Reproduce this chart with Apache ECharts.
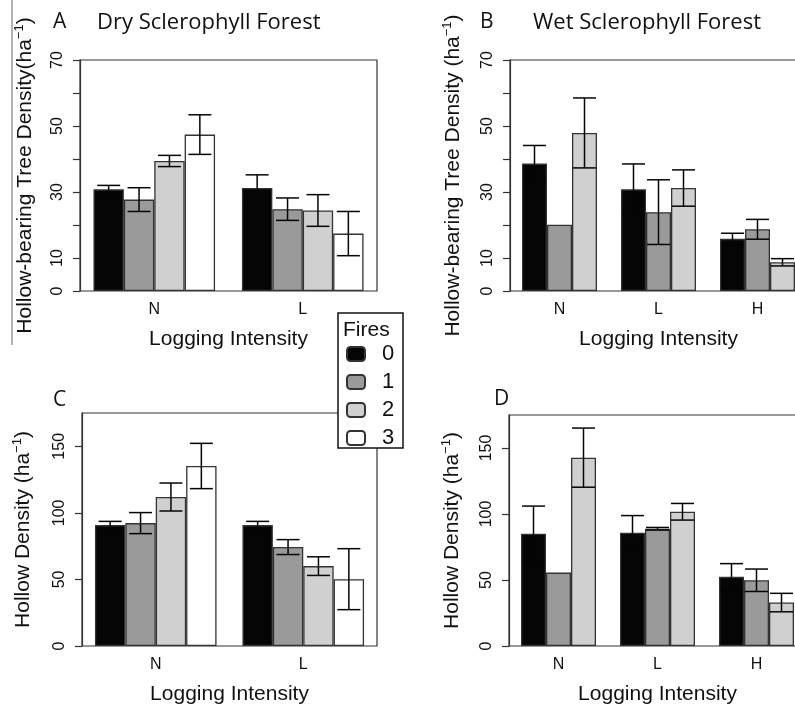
<!DOCTYPE html>
<html>
<head>
<meta charset="utf-8">
<script src="https://cdn.jsdelivr.net/npm/echarts@6/dist/echarts.min.js"></script>
<style>
html,body{margin:0;padding:0;overflow:hidden;background:#fff;width:795px;height:707px;}
#c{position:absolute;left:0;top:0;width:830px;height:707px;}
</style>
</head>
<body>
<div id="c"></div>
<script>
// ---------- data ----------
const fireLevels = ['0', '1', '2', '3'];
const catsDry = ['N', 'L'];
const catsWet = ['N', 'L', 'H'];

// Panel A: Dry sclerophyll, hollow-bearing tree density (ha^-1)
const treeDryMean = [[30.8, 31.2], [27.7, 24.8], [39.4, 24.4], [47.4, 17.4]];
const treeDryErr  = [[1.2, 4.0], [3.6, 3.4], [1.7, 4.8], [6.0, 6.7]];

// Panel B: Wet sclerophyll, hollow-bearing tree density (ha^-1)
const treeWetMean = [[38.6, 30.8, 15.8], [20.1, 23.9, 18.7], [47.9, 31.2, 8.7]];
const treeWetErr  = [[5.5, 7.7, 1.7], [null, 9.8, 3.0], [10.6, 5.5, 1.1]];

// Panel C: Dry sclerophyll, hollow density (ha^-1)
const holDryMean = [[90.8, 90.8], [92.3, 74.3], [111.9, 60.0], [135.2, 50.2]];
const holDryErr  = [[2.8, 2.8], [7.9, 5.6], [10.5, 7.0], [17.0, 22.9]];

// Panel D: Wet sclerophyll, hollow density (ha^-1)
const holWetMean = [[85.0, 85.8, 52.4], [55.6, 88.8, 49.8], [142.7, 101.7, 32.9]];
const holWetErr  = [[21.0, 13.0, 10.0], [null, 1.0, 8.5], [22.4, 6.3, 7.0]];

const treeTicks = [0, 10, 20, 30, 40, 50, 60, 70];
const treeTickLabels = [0, 10, 30, 50, 70];
const holTicks = [0, 50, 100, 150];

// ---------- styles ----------
const fillColors = ['#050505', '#9a9a9a', '#d0d0d0', '#ffffff'];
const lineCol = '#333';
const SANS = '"Liberation Sans", Arial, sans-serif';
const TITLE = '"Open Sans", Lato, sans-serif';

const panels = [
  {grid:{left:80, top:60, width:297, height:231}, cats:catsDry, mean:treeDryMean, err:treeDryErr, max:70, ticks:treeTicks, labels:treeTickLabels, barW:30.4,
   yname:'{a|Hollow-bearing Tree Density(ha}{s|−1}{a|)}', nameGap:42},
  {grid:{left:510, top:60, width:297, height:231}, cats:catsWet, mean:treeWetMean, err:treeWetErr, max:70, ticks:treeTicks, labels:treeTickLabels, barW:25,
   yname:'{a|Hollow-bearing Tree Density (ha}{s|−1}{a|)}', nameGap:44},
  {grid:{left:82, top:413, width:295, height:233}, cats:catsDry, mean:holDryMean, err:holDryErr, max:175, ticks:holTicks, labels:holTicks, barW:30.4,
   yname:'{a|Hollow Density (ha}{s|−1}{a|)}', nameGap:46},
  {grid:{left:509, top:415, width:297, height:231}, cats:catsWet, mean:holWetMean, err:holWetErr, max:175, ticks:holTicks, labels:holTicks, barW:25,
   yname:'{a|Hollow Density (ha}{s|−1}{a|)}', nameGap:44}
];

const grids = [], xAxes = [], yAxes = [], series = [];
panels.forEach((p, pi) => {
  grids.push(Object.assign({show:true, borderColor:lineCol, borderWidth:1.2, backgroundColor:'transparent'}, p.grid));
  xAxes.push({
    type:'category', gridIndex:pi, data:p.cats,
    axisLine:{show:false}, axisTick:{show:false},
    axisLabel:{color:'#111', fontFamily:SANS, fontSize:16, margin:11},
    name:'Logging Intensity', nameLocation:'middle', nameGap:38,
    nameTextStyle:{color:'#111', fontFamily:SANS, fontSize:21}
  });
  yAxes.push({
    type:'value', gridIndex:pi, min:0, max:p.max,
    axisLine:{show:true, lineStyle:{color:lineCol, width:1.2}},
    axisTick:{show:true, length:7, lineStyle:{color:lineCol, width:1.2}, customValues:p.ticks},
    axisLabel:{show:true, rotate:90, margin:14, color:'#111', fontFamily:SANS, fontSize:16, customValues:p.labels},
    splitLine:{show:false},
    name:p.yname, nameLocation:'middle', nameGap:p.nameGap,
    nameTextStyle:{padding:[0, 0, 0, 0], rich:{
      a:{fontFamily:SANS, fontSize:21, color:'#111', lineHeight:25},
      s:{fontFamily:SANS, fontSize:13, color:'#111', verticalAlign:'top', lineHeight:25}
    }}
  });
  const nF = p.mean.length;
  p.mean.forEach((vals, fi) => {
    series.push({
      type:'bar', name:fireLevels[fi], xAxisIndex:pi, yAxisIndex:pi,
      data:vals, barWidth:p.barW, barGap:'0%',
      itemStyle:{color:fillColors[fi], borderColor:lineCol, borderWidth:1.3},
      emphasis:{disabled:true}, z:2
    });
  });
  p.mean.forEach((vals, fi) => {
    const errData = [];
    vals.forEach((m, ci) => {
      const e = p.err[fi][ci];
      if (e != null) errData.push([ci, m - e, m + e]);
    });
    const off = (fi - (nF - 1) / 2) * p.barW;
    const hw = 11.5;
    series.push({
      type:'custom', name:'err' + pi + '_' + fi, xAxisIndex:pi, yAxisIndex:pi,
      data:errData, z:5, silent:true,
      renderItem:(params, api) => {
        const c = api.value(0);
        const lo = api.coord([c, api.value(1)]);
        const hi = api.coord([c, api.value(2)]);
        const x = lo[0] + off;
        const st = {stroke:'#050505', lineWidth:1.5};
        return {type:'group', children:[
          {type:'line', shape:{x1:x, y1:lo[1], x2:x, y2:hi[1]}, style:st},
          {type:'line', shape:{x1:x - hw, y1:lo[1], x2:x + hw, y2:lo[1]}, style:st},
          {type:'line', shape:{x1:x - hw, y1:hi[1], x2:x + hw, y2:hi[1]}, style:st}
        ]};
      }
    });
  });
});

const txt = (t, x, y, size, fam) => ({type:'text', x:x, y:y, z:40,
  style:{text:t, fill:'#111', font:'' + size + 'px ' + fam, verticalAlign:'middle', align:'left'}});

const option = {
  animation:false,
  backgroundColor:'#fff',
  grid:grids, xAxis:xAxes, yAxis:yAxes, series:series,
  legend:{
    data:fireLevels, orient:'vertical', left:341, top:338, z:30,
    itemWidth:18, itemHeight:14, itemGap:6, selectedMode:false,
    textStyle:{fontFamily:SANS, fontSize:22, color:'#111', lineHeight:22, padding:[0,0,0,12]}
  },
  graphic:[
    {type:'line', z:1, shape:{x1:12, y1:0, x2:12, y2:345}, style:{stroke:'#666', lineWidth:1}},
    {type:'rect', z:25, shape:{x:338, y:313, width:65, height:135}, style:{fill:'#fff', stroke:'#111', lineWidth:1.5}},
    txt('Fires', 343, 330, 21, SANS),
    txt('A', 53, 22, 21, TITLE),
    txt('Dry Sclerophyll Forest', 97, 23, 22, TITLE),
    txt('B', 480, 22, 21, TITLE),
    txt('Wet Sclerophyll Forest', 533, 23, 22, TITLE),
    txt('C', 53, 400, 21, TITLE),
    txt('D', 494, 399, 21, TITLE)
  ]
};

const chart = echarts.init(document.getElementById('c'), null, {renderer:'canvas'});
chart.setOption(option);
</script>
</body>
</html>
